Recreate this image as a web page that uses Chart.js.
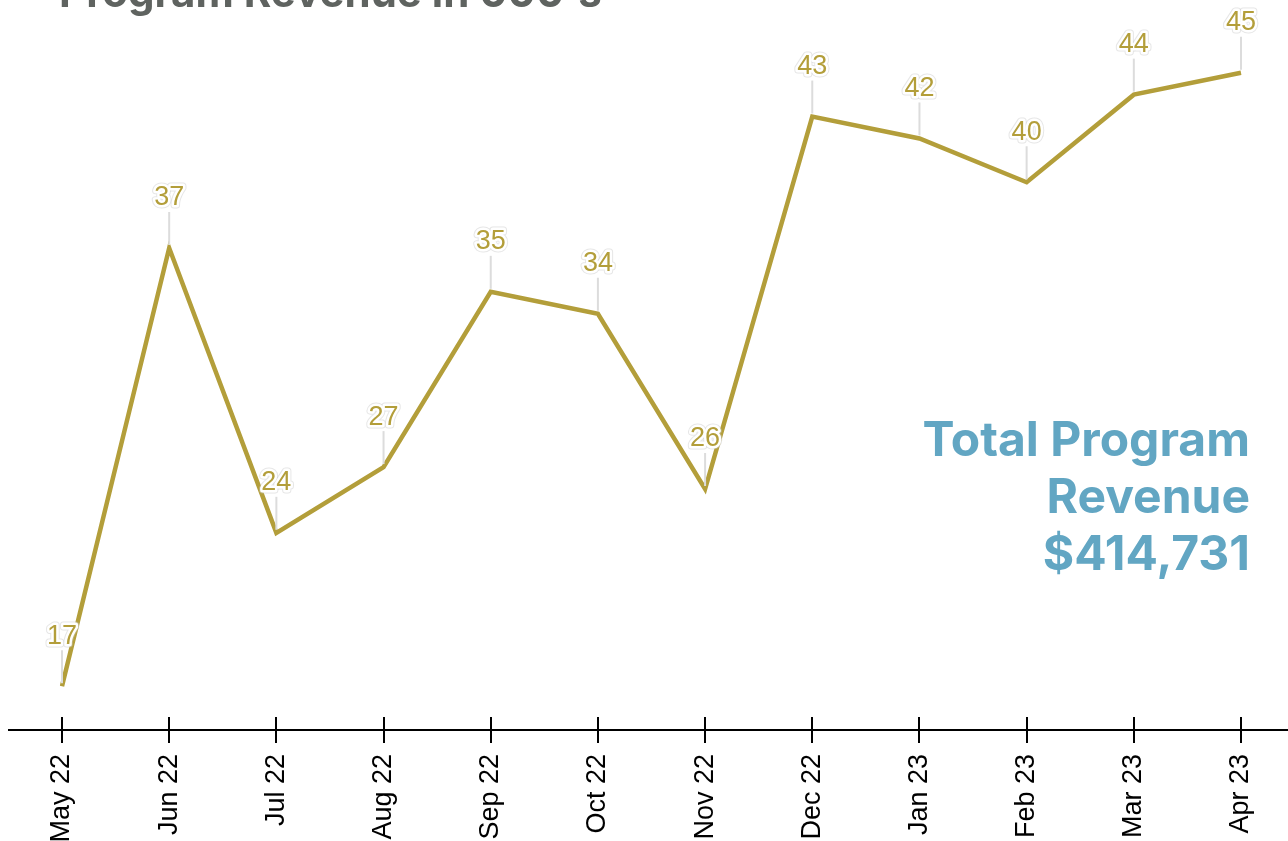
<!DOCTYPE html>
<html>
<head>
<meta charset="utf-8">
<title>Program Revenue</title>
<script src="https://cdn.jsdelivr.net/npm/chart.js@4/dist/chart.umd.min.js"></script>
<style>
  html, body { margin: 0; padding: 0; background: #fff; overflow: hidden; }
  #wrap { position: relative; width: 1288px; height: 841px; }
</style>
</head>
<body>
<div id="wrap"><canvas id="revChart"></canvas></div>
<script>
// months shown on the x axis
const months = ['May 22', 'Jun 22', 'Jul 22', 'Aug 22', 'Sep 22', 'Oct 22',
  'Nov 22', 'Dec 22', 'Jan 23', 'Feb 23', 'Mar 23', 'Apr 23'];
// revenue in thousands
const revenue = [17, 37, 24, 27, 35, 34, 26, 43, 42, 40, 44, 45];
const titleText = "Program Revenue in 000's";
const totalLines = ['Total Program', 'Revenue', '$414,731'];

const GOLD = '#b39e3a';

// title, axis line, tick marks, value callouts and the total note
const decorations = {
  id: 'decorations',
  afterDatasetsDraw(chart) {
    const ctx = chart.ctx;
    const x = chart.scales.x;
    const meta = chart.getDatasetMeta(0);
    const axisY = chart.chartArea.bottom;

    ctx.save();
    // axis line + ticks crossing it
    ctx.strokeStyle = '#000';
    ctx.lineWidth = 2;
    ctx.beginPath();
    ctx.moveTo(8, axisY);
    ctx.lineTo(chart.width, axisY);
    x.ticks.forEach((t, i) => {
      const px = Math.round(x.getPixelForTick(i));
      ctx.moveTo(px, axisY - 13);
      ctx.lineTo(px, axisY + 13);
    });
    ctx.stroke();

    // value callouts
    ctx.font = '27px "Liberation Sans", Arial, sans-serif';
    ctx.textAlign = 'center';
    ctx.textBaseline = 'middle';
    meta.data.forEach((pt, i) => {
      ctx.strokeStyle = '#dcdcdc';
      ctx.lineWidth = 2;
      ctx.beginPath();
      ctx.moveTo(pt.x, pt.y - 3);
      ctx.lineTo(pt.x, pt.y - 36);
      ctx.stroke();
      const s = String(revenue[i]);
      const ty = pt.y - 50;
      ctx.lineJoin = 'round';
      ctx.strokeStyle = 'rgba(200,200,200,0.45)';
      ctx.lineWidth = 7;
      ctx.strokeText(s, pt.x, ty);
      ctx.strokeStyle = '#fff';
      ctx.lineWidth = 5;
      ctx.strokeText(s, pt.x, ty);
      ctx.fillStyle = GOLD;
      ctx.fillText(s, pt.x, ty);
    });

    // title (cut off at the top, as in the original)
    ctx.font = '700 42px Inter, sans-serif';
    ctx.textAlign = 'left';
    ctx.textBaseline = 'alphabetic';
    ctx.fillStyle = '#5f6360';
    ctx.fillText(titleText, 59, 7);

    // total note
    ctx.font = '700 48px Inter, sans-serif';
    ctx.textAlign = 'right';
    ctx.fillStyle = '#62a6c3';
    totalLines.forEach((t, i) => ctx.fillText(t, 1250, 456 + i * 57));
    ctx.restore();
  }
};

const ctx = document.getElementById('revChart').getContext('2d');
new Chart(ctx, {
  type: 'line',
  data: {
    labels: months,
    datasets: [{
      data: revenue,
      borderColor: GOLD,
      borderWidth: 4.5,
      pointRadius: 0,
      tension: 0,
      fill: false
    }]
  },
  options: {
    responsive: true,
    maintainAspectRatio: false,
    animation: false,
    layout: { padding: { left: 62, right: 47, top: 7, bottom: 0 } },
    plugins: { legend: { display: false }, tooltip: { enabled: false }, title: { display: false } },
    scales: {
      x: {
        grid: { display: false, drawTicks: false },
        border: { display: false },
        afterFit(scale) {
          scale.height = 111;
          scale.paddingLeft = 0;
          scale.paddingRight = 0;
        },
        ticks: {
          color: '#000',
          padding: 24,
          minRotation: 90,
          maxRotation: 90,
          autoSkip: false,
          font: { family: '"Liberation Sans", Arial, sans-serif', size: 27 }
        }
      },
      y: {
        display: false,
        min: 15,
        max: 48
      }
    }
  },
  plugins: [decorations]
});
</script>
</body>
</html>
